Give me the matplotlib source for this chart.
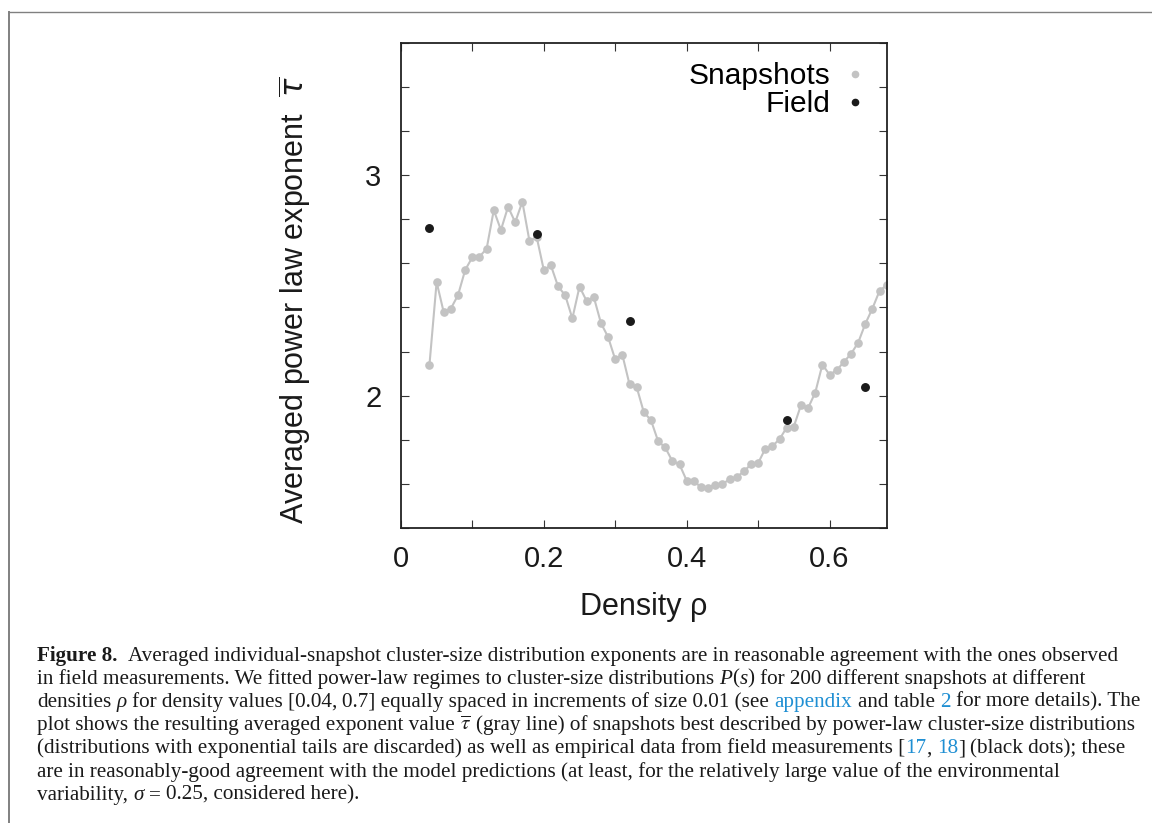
import matplotlib
matplotlib.use("Agg")
import matplotlib.pyplot as plt
from matplotlib.lines import Line2D
from matplotlib.ticker import MultipleLocator, FixedLocator

# ---- data ----
rho = [0.04, 0.05, 0.06, 0.07, 0.08, 0.09, 0.10, 0.11, 0.12, 0.13,
       0.14, 0.15, 0.16, 0.17, 0.18, 0.19, 0.20, 0.21, 0.22, 0.23,
       0.24, 0.25, 0.26, 0.27, 0.28, 0.29, 0.30, 0.31, 0.32, 0.33,
       0.34, 0.35, 0.36, 0.37, 0.38, 0.39, 0.40, 0.41, 0.42, 0.43,
       0.44, 0.45, 0.46, 0.47, 0.48, 0.49, 0.50, 0.51, 0.52, 0.53,
       0.54, 0.55, 0.56, 0.57, 0.58, 0.59, 0.60, 0.61, 0.62, 0.63,
       0.64, 0.65, 0.66, 0.67, 0.68]
tau_snap = [2.141, 2.515, 2.377, 2.395, 2.456, 2.570, 2.627, 2.630, 2.666, 2.841,
            2.751, 2.856, 2.786, 2.879, 2.700, 2.720, 2.570, 2.590, 2.495, 2.455,
            2.350, 2.494, 2.429, 2.447, 2.329, 2.266, 2.164, 2.185, 2.051, 2.039,
            1.925, 1.889, 1.794, 1.765, 1.703, 1.688, 1.615, 1.614, 1.584, 1.582,
            1.597, 1.600, 1.620, 1.630, 1.657, 1.688, 1.694, 1.759, 1.771, 1.803,
            1.855, 1.860, 1.957, 1.944, 2.014, 2.141, 2.095, 2.115, 2.153, 2.189,
            2.240, 2.325, 2.395, 2.475, 2.501]

rho_field = [0.04, 0.19, 0.32, 0.54, 0.65]
tau_field = [2.760, 2.732, 2.339, 1.888, 2.038]

x_ticklabels = ["0", "0.2", "0.4", "0.6"]
y_ticklabels = ["2", "3"]

GRAY = "#c3c3c3"
BLACK = "#1a1a1a"
SANS = "Liberation Sans"
SERIF = "Liberation Serif"
LINK = "#1f8fd3"

W, H = 1152, 823
fig = plt.figure(figsize=(W / 100, H / 100), dpi=100)

# outer frame (top + left border of the page box)
fig.add_artist(Line2D([8.5 / W, 8.5 / W], [0.0, 1 - 11.5 / H], transform=fig.transFigure,
                      color="#808080", lw=1.4))
fig.add_artist(Line2D([8.5 / W, 1.0], [1 - 11.5 / H, 1 - 11.5 / H], transform=fig.transFigure,
                      color="#808080", lw=1.0))

# ---- chart ----
ax = fig.add_axes([400.9 / W, 1 - 528 / H, 485.8 / W, 485.3 / H])
ax.plot(rho, tau_snap, color=GRAY, lw=1.5, marker="o", ms=5.2, mec=GRAY, mfc=GRAY, zorder=2)
ax.plot(rho_field, tau_field, ls="none", marker="o", ms=5.4, color=BLACK, zorder=3)

ax.set_xlim(0, 0.68)
ax.set_ylim(1.4, 3.6)
ax.xaxis.set_major_locator(FixedLocator([0, 0.2, 0.4, 0.6]))
ax.set_xticklabels(x_ticklabels)
ax.xaxis.set_minor_locator(MultipleLocator(0.1))
ax.yaxis.set_major_locator(FixedLocator([2, 3]))
ax.set_yticklabels(y_ticklabels)
ax.yaxis.set_minor_locator(MultipleLocator(0.2))
for which in ("major", "minor"):
    ax.tick_params(which=which, direction="in", length=6, width=0.8, color="#333333",
                   top=True, right=True)
ax.tick_params(axis="x", which="major", labelsize=21, pad=12)
ax.tick_params(axis="y", which="major", labelsize=21, pad=14)
for lab in ax.get_xticklabels() + ax.get_yticklabels():
    lab.set_family(SANS)
    lab.set_color("#1a1a1a")
for sp in ax.spines.values():
    sp.set_linewidth(1.3)
    sp.set_color("#222222")

ax.set_xlabel("Density \u03c1", fontsize=22, family=SANS, color="#1a1a1a", labelpad=14)
ax.set_ylabel(r"Averaged power law exponent  $\overline{\tau}$", fontsize=22, family=SANS,
              color="#1a1a1a")
ax.yaxis.set_label_coords(-0.18, 0.47)

handles = [Line2D([], [], ls="none", marker="o", ms=4.5, color=GRAY),
           Line2D([], [], ls="none", marker="o", ms=4.5, color=BLACK)]
ax.legend(handles, ["Snapshots", "Field"], loc="upper right", frameon=False, markerfirst=False,
          prop={"family": SANS, "size": 21.5}, labelspacing=0.0, handlelength=1.0,
          handletextpad=0.35, borderaxespad=0.2, bbox_to_anchor=(1.003, 0.997))

# ---- caption ----
renderer = fig.canvas.get_renderer()

R = {"family": SERIF, "color": "#1a1a1a"}
B = {"family": SERIF, "color": "#1a1a1a", "weight": "bold"}
I = {"family": SERIF, "color": "#1a1a1a", "style": "italic"}
L = {"family": SERIF, "color": LINK}
M = {"family": SERIF, "color": "#1a1a1a", "math_fontfamily": "stix"}
SP = (" ", None)

caption = [
    [("Figure 8.", B), SP, SP, ("Averaged individual-snapshot cluster-size distribution exponents are in "
                               "reasonable agreement with the ones observed", R)],
    [("in field measurements. We fitted power-law regimes to cluster-size distributions", R), SP,
     ("P", I), ("(", R), ("s", I), (")", R), SP, ("for 200 different snapshots at different", R)],
    [("densities", R), SP, ("\u03c1", I), SP, ("for density values [0.04,", R), SP, ("0.7] equally spaced in "
     "increments of size 0.01 (see", R), SP, ("appendix", L), SP, ("and table", R), SP, ("2", L), SP,
     ("for more details). The", R)],
    [("plot shows the resulting averaged exponent value", R), SP, (r"$\overline{\tau}$", M), SP,
     ("(gray line) of snapshots best described by power-law cluster-size distributions", R)],
    [("(distributions with exponential tails are discarded) as well as empirical data from field "
      "measurements [", R), ("17", L), (",", R), SP, ("18", L), ("]", R), SP, ("(black dots); these", R)],
    [("are in reasonably-good agreement with the model predictions (at least, for the relatively large "
      "value of the environmental", R)],
    [("variability,", R), SP, ("\u03c3", I), SP, ("=", R), SP, ("0.25, considered here).", R)],
]


def seg_w(s, st, size):
    t = fig.text(0, 0, s, fontsize=size, **st)
    w = t.get_window_extent(renderer).width
    t.remove()
    return w


def line_w(line, size, space):
    return sum(space if st is None else seg_w(s, st, size) for s, st in line)


# size the caption font so the first line spans the same width as in the page
CAP = 12.6
sp0 = seg_w("n n", R, CAP) - seg_w("nn", R, CAP)
CAP = CAP * (1120 - 37) / line_w(caption[0], CAP, sp0)
space_w = seg_w("n n", R, CAP) - seg_w("nn", R, CAP)

y0 = 660.5
for k, line in enumerate(caption):
    x = 37.0
    y = y0 + k * 23.2
    for s, st in line:
        if st is None:
            x += space_w
            continue
        t = fig.text(x / W, 1 - y / H, s, fontsize=CAP, ha="left", va="baseline", **st)
        x += t.get_window_extent(renderer).width

fig.savefig("out.png", dpi=100)
